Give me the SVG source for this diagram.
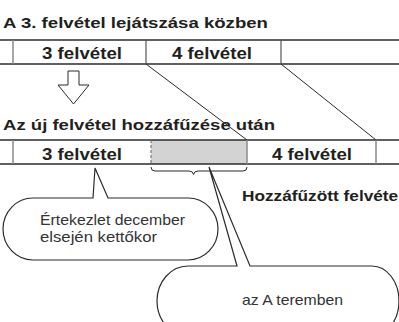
<svg xmlns="http://www.w3.org/2000/svg" width="399" height="322" viewBox="0 0 399 322">
<style>
.t{font-family:"Liberation Sans",Arial,sans-serif;font-weight:bold;fill:#231f20}
.c{font-family:"Liberation Sans",Arial,sans-serif;fill:#333;font-size:14.5px}
.h{stroke:#2b2b2b;stroke-width:1.6;fill:none}
.dv{stroke:#555;stroke-width:1.2;fill:none}
.gv{stroke:#8a8a8a;stroke-width:1.5;fill:none}
.ln{stroke:#2b2b2b;stroke-width:1;fill:none}
.co{stroke:#2b2b2b;stroke-width:1.2;fill:#fff}
</style>
<g id="title1"><text class="t" x="3" y="28" font-size="15" textLength="265" lengthAdjust="spacingAndGlyphs">A 3. felvétel lejátszása közben</text></g>
<g id="bar1">
<line class="h" x1="0" y1="40" x2="399" y2="40"/>
<line class="h" x1="0" y1="64" x2="399" y2="64"/>
<line class="gv" x1="13" y1="40" x2="13" y2="64"/>
<line class="dv" x1="146" y1="40" x2="146" y2="64"/>
<line class="dv" x1="281" y1="40" x2="281" y2="64"/>
<text class="t" x="42" y="59" font-size="17" textLength="80" lengthAdjust="spacingAndGlyphs">3 felvétel</text>
<text class="t" x="172" y="59" font-size="17" textLength="80" lengthAdjust="spacingAndGlyphs">4 felvétel</text>
</g>
<g id="arrow"><polygon points="68,71 79,71 79,85 89,85 73.5,104 58,85 68,85" fill="#fff" stroke="#2b2b2b" stroke-width="1"/></g>
<g id="connectors">
<line class="ln" x1="146" y1="64" x2="247" y2="140"/>
<line class="ln" x1="281" y1="64" x2="376" y2="140"/>
</g>
<g id="title2"><text class="t" x="3" y="129.5" font-size="15" textLength="272" lengthAdjust="spacingAndGlyphs">Az új felvétel hozzáfűzése után</text></g>
<g id="bar2">
<rect x="151" y="140" width="96" height="24" fill="#d3d3d3"/>
<line class="h" x1="0" y1="140" x2="399" y2="140"/>
<line class="h" x1="0" y1="164" x2="399" y2="164"/>
<line class="gv" x1="13" y1="140" x2="13" y2="164"/>
<line x1="151" y1="140" x2="151" y2="164" stroke="#777" stroke-width="1.2" stroke-dasharray="3,2"/>
<line class="gv" x1="247" y1="140" x2="247" y2="164" stroke="#777"/>
<line class="gv" x1="376" y1="140" x2="376" y2="164" stroke="#777"/>
<text class="t" x="42" y="160" font-size="17" textLength="80" lengthAdjust="spacingAndGlyphs">3 felvétel</text>
<text class="t" x="272" y="160" font-size="17" textLength="80" lengthAdjust="spacingAndGlyphs">4 felvétel</text>
</g>
<g id="brace"><path d="M151,167 Q151,171 155,171 H189 Q193,171 193.5,174.5 Q194,171 198,171 H243 Q247,171 247,167" class="ln"/></g>
<g id="label-appended"><text class="t" x="242" y="200.5" font-size="15" textLength="161" lengthAdjust="spacingAndGlyphs">Hozzáfűzött felvétel</text></g>
<g id="callout1">
<path class="co" d="M93,198 H33 A30 31 0 0 0 33,260 H188 A30 31 0 0 0 188,198 H108 L95,168 Z"/>
<text class="c" x="40" y="225" textLength="145" lengthAdjust="spacingAndGlyphs">Értekezlet december</text>
<text class="c" x="40" y="242" textLength="117" lengthAdjust="spacingAndGlyphs">elsején kettőkor</text>
</g>
<g id="callout2">
<path class="co" d="M237,266 H188 A31 35 0 0 0 188,336 H372 A27 35 0 0 0 372,266 H250 L209,167 Z"/>
<text class="c" x="242" y="305" textLength="101" lengthAdjust="spacingAndGlyphs">az A teremben</text>
</g>
</svg>
